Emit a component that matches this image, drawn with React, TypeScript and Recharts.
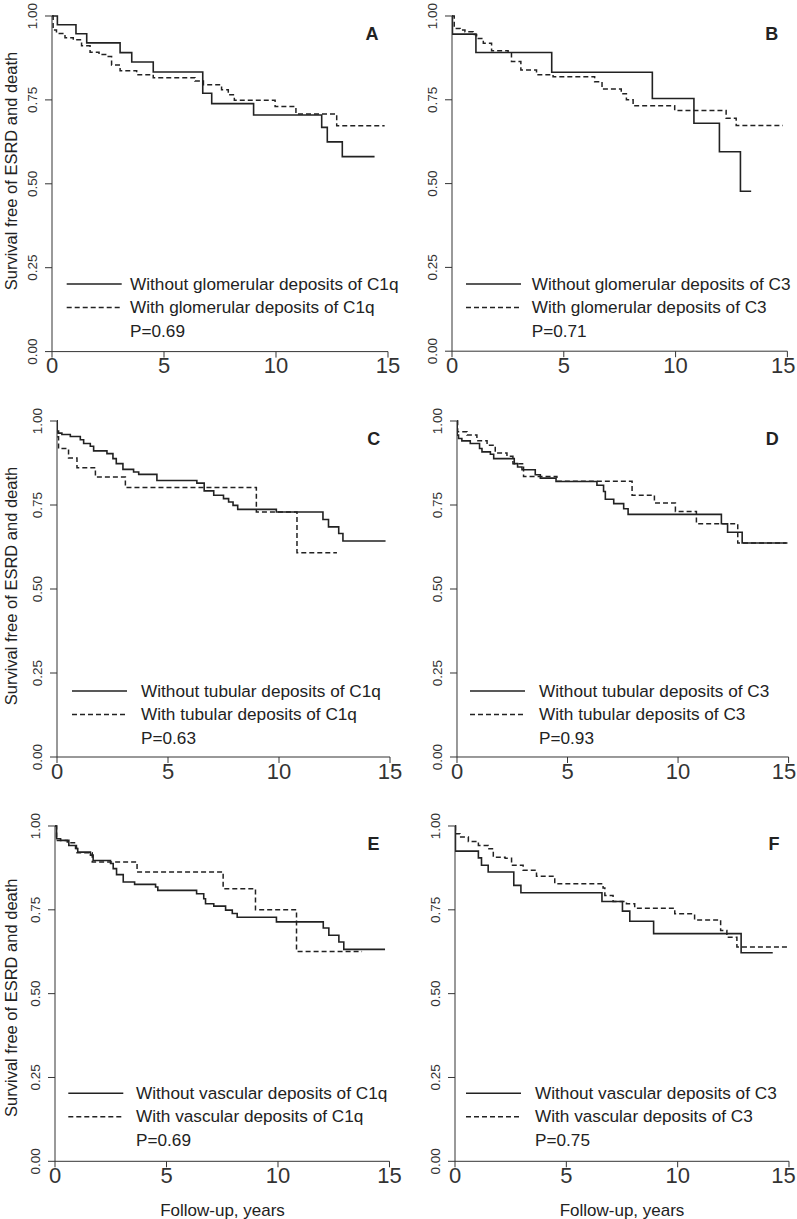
import React from "react";
import { LineChart, Line, XAxis, YAxis } from "recharts";

const FONT = '"Liberation Sans", Arial, Helvetica, sans-serif';
const INK = "#222";

// Kaplan-Meier steps: [years, survival]
const aWithout = [[0, 1], [0.24, 0.974], [1.07, 0.947], [1.55, 0.92], [3.04, 0.891], [3.56, 0.863], [4.52, 0.833], [6.73, 0.77], [7.13, 0.739], [9.0, 0.705], [12.04, 0.668], [12.29, 0.625], [12.96, 0.581], [14.4, 0.581]];
const aWith = [[0, 1], [0.05, 0.958], [0.2, 0.948], [0.58, 0.935], [0.95, 0.929], [1.32, 0.911], [1.7, 0.892], [2.1, 0.885], [2.51, 0.879], [2.66, 0.854], [3.04, 0.837], [3.78, 0.825], [4.52, 0.816], [6.38, 0.806], [6.76, 0.795], [7.57, 0.78], [7.87, 0.765], [8.14, 0.749], [9.96, 0.73], [10.89, 0.708], [12.71, 0.673], [14.85, 0.673]];

const bWithout = [[0, 1], [0.02, 0.946], [1.07, 0.891], [4.46, 0.832], [8.96, 0.754], [10.82, 0.68], [11.96, 0.595], [12.9, 0.477], [13.38, 0.477]];
const bWith = [[0, 1], [0.1, 0.963], [0.36, 0.958], [0.58, 0.953], [0.95, 0.945], [1.1, 0.933], [1.4, 0.919], [1.77, 0.896], [2.51, 0.889], [2.66, 0.864], [3.08, 0.839], [3.78, 0.825], [4.52, 0.819], [6.38, 0.804], [6.71, 0.782], [7.57, 0.768], [7.8, 0.75], [8.1, 0.732], [9.96, 0.718], [12.26, 0.695], [12.71, 0.673], [14.8, 0.673]];

const cWithout = [[0, 1], [0.01, 0.97], [0.07, 0.964], [0.22, 0.96], [0.6, 0.954], [1.05, 0.944], [1.2, 0.933], [1.5, 0.925], [1.65, 0.911], [2.25, 0.903], [2.52, 0.888], [2.67, 0.873], [2.97, 0.856], [3.45, 0.848], [3.68, 0.841], [4.5, 0.823], [6.3, 0.815], [6.63, 0.792], [7.06, 0.779], [7.5, 0.769], [7.73, 0.759], [7.93, 0.749], [8.14, 0.737], [9.88, 0.729], [11.98, 0.707], [12.23, 0.685], [12.69, 0.665], [12.88, 0.643], [14.8, 0.643]];
const cWith = [[0, 1], [0.01, 0.953], [0.07, 0.918], [0.52, 0.89], [0.9, 0.861], [1.73, 0.833], [3.08, 0.802], [8.98, 0.729], [10.81, 0.608], [12.61, 0.608]];

const dWithout = [[0, 1], [0.01, 0.958], [0.07, 0.948], [0.22, 0.941], [0.6, 0.933], [1.02, 0.918], [1.13, 0.908], [1.51, 0.901], [1.66, 0.888], [2.59, 0.873], [2.74, 0.863], [2.94, 0.855], [3.54, 0.84], [3.77, 0.83], [4.48, 0.82], [6.33, 0.809], [6.63, 0.79], [6.71, 0.767], [7.09, 0.754], [7.54, 0.739], [7.74, 0.722], [11.96, 0.694], [12.24, 0.669], [12.9, 0.637], [14.95, 0.637]];
const dWith = [[0, 1], [0.03, 0.968], [0.45, 0.958], [0.9, 0.941], [1.36, 0.928], [1.73, 0.905], [2.26, 0.895], [2.53, 0.873], [3.01, 0.835], [4.52, 0.821], [7.92, 0.779], [8.93, 0.756], [9.88, 0.731], [10.83, 0.694], [12.7, 0.637], [14.9, 0.637]];

const eWithout = [[0, 1], [0.07, 0.962], [0.25, 0.957], [0.62, 0.942], [0.96, 0.933], [1.02, 0.922], [1.59, 0.913], [1.71, 0.897], [2.49, 0.888], [2.61, 0.873], [2.76, 0.855], [3.06, 0.833], [3.57, 0.826], [4.51, 0.818], [4.61, 0.808], [6.35, 0.798], [6.67, 0.783], [6.75, 0.768], [7.12, 0.761], [7.65, 0.749], [7.95, 0.739], [8.17, 0.728], [9.93, 0.714], [12.03, 0.696], [12.28, 0.674], [12.73, 0.654], [12.95, 0.632], [14.8, 0.632]];
const eWith = [[0, 1], [0.07, 0.957], [0.55, 0.95], [0.92, 0.933], [0.99, 0.92], [1.67, 0.893], [3.68, 0.863], [7.54, 0.813], [8.99, 0.75], [10.83, 0.626], [13.77, 0.626]];

const fWithout = [[0, 1], [0.02, 0.925], [1.05, 0.905], [1.19, 0.883], [1.49, 0.863], [2.64, 0.823], [2.96, 0.801], [6.6, 0.775], [7.52, 0.746], [7.85, 0.716], [8.92, 0.679], [12.85, 0.622], [14.27, 0.622]];
const fWith = [[0, 1], [0.02, 0.977], [0.22, 0.967], [0.6, 0.954], [1.05, 0.942], [1.49, 0.932], [1.72, 0.907], [2.25, 0.904], [2.54, 0.883], [3.06, 0.868], [3.66, 0.85], [4.48, 0.828], [6.65, 0.815], [6.73, 0.793], [7.1, 0.775], [7.7, 0.768], [8.07, 0.755], [9.87, 0.738], [10.76, 0.72], [11.93, 0.688], [12.21, 0.668], [12.66, 0.639], [15, 0.639]];

const xTicks = [0, 5, 10, 15];
const yTicks = [0, 0.25, 0.5, 0.75, 1];

const panels = [
  { letter: "A", solid: aWithout, dashed: aWith, labels: ["Without glomerular deposits of C1q", "With glomerular deposits of C1q", "P=0.69"] },
  { letter: "B", solid: bWithout, dashed: bWith, labels: ["Without glomerular deposits of C3", "With glomerular deposits of C3", "P=0.71"] },
  { letter: "C", solid: cWithout, dashed: cWith, labels: ["Without tubular deposits of C1q", "With tubular deposits of C1q", "P=0.63"] },
  { letter: "D", solid: dWithout, dashed: dWith, labels: ["Without tubular deposits of C3", "With tubular deposits of C3", "P=0.93"] },
  { letter: "E", solid: eWithout, dashed: eWith, labels: ["Without vascular deposits of C1q", "With vascular deposits of C1q", "P=0.69"] },
  { letter: "F", solid: fWithout, dashed: fWith, labels: ["Without vascular deposits of C3", "With vascular deposits of C3", "P=0.75"] },
];

// plot boxes (left, right, top, bottom) and legend placement, in page pixels
const boxes = [
  { l: 52, r: 388, t: 15.7, b: 351.3, lineX: 66.7, textX: 130, rowY: 284 },
  { l: 452.3, r: 787.7, t: 15.7, b: 350.9, lineX: 466, textX: 531.7, rowY: 284 },
  { l: 56.7, r: 389.7, t: 420.7, b: 756.7, lineX: 72, textX: 141, rowY: 691 },
  { l: 456.7, r: 788.3, t: 420.7, b: 756.7, lineX: 470, textX: 539, rowY: 691 },
  { l: 54.5, r: 389, t: 825.7, b: 1161, lineX: 68.3, textX: 136, rowY: 1093.3 },
  { l: 455, r: 789, t: 825.7, b: 1161, lineX: 466, textX: 535, rowY: 1093.3 },
];

const YW = 50;
const XH = 40;
const MT = 16;
const MR = 10;
const PAGE_W = 797;

const toPts = (arr: number[][]) => arr.map(([t, s]) => ({ t, s }));

const YTick = (props: any) => {
  const { x, y, payload } = props;
  const bx = x - 7.7;
  return (
    <text x={bx} y={y} transform={`rotate(-90 ${bx} ${y})`} textAnchor="middle" fontSize={13.5} fill="#333" fontFamily={FONT}>
      {Number(payload.value).toFixed(2)}
    </text>
  );
};

// keeps the last label inside the page, like the reference where "15" touches the edge
const XTick = (props: any) => {
  const { x, y, payload, maxX } = props;
  const label = String(payload.value);
  const half = label.length * 6.2;
  const cx = Math.min(x, maxX - half);
  return (
    <text x={cx} y={y} dy="0.71em" textAnchor="middle" fontSize={22} fill="#333" fontFamily={FONT}>
      {label}
    </text>
  );
};

function Panel({ p, box }: { p: any; box: any }) {
  const w = box.r - box.l;
  const h = box.b - box.t;
  const left = box.l - YW;
  return (
    <div style={{ position: "absolute", left, top: box.t - MT }}>
      <LineChart width={w + YW + MR} height={h + MT + XH} margin={{ top: MT, right: MR, left: 0, bottom: 0 }}>
        <XAxis
          type="number"
          dataKey="t"
          domain={[0, 15]}
          ticks={xTicks}
          allowDataOverflow
          height={XH}
          tickSize={6}
          tickMargin={0}
          stroke="#333"
          interval={0}
          tick={(tp: any) => <XTick {...tp} maxX={PAGE_W - 1 - left} />}
        />
        <YAxis
          type="number"
          domain={[0, 1]}
          ticks={yTicks}
          width={YW}
          tickSize={7}
          tickMargin={0}
          stroke="#333"
          interval={0}
          tick={<YTick />}
        />
        <Line data={toPts(p.dashed)} dataKey="s" type="stepAfter" stroke={INK} strokeWidth={1.5} strokeDasharray="5 3" dot={false} isAnimationActive={false} />
        <Line data={toPts(p.solid)} dataKey="s" type="stepAfter" stroke={INK} strokeWidth={1.6} dot={false} isAnimationActive={false} />
      </LineChart>
    </div>
  );
}

export default function App() {
  return (
    <div style={{ position: "absolute", left: 0, top: 0, width: PAGE_W, height: 1219, background: "#fff", fontFamily: FONT, overflow: "hidden" }}>
      <style>{".recharts-surface{overflow:visible}"}</style>
      {panels.map((p, i) => (
        <Panel key={p.letter} p={p} box={boxes[i]} />
      ))}
      <svg width={PAGE_W} height={1219} style={{ position: "absolute", left: 0, top: 0, pointerEvents: "none" }}>
        {panels.map((p, i) => {
          const b = boxes[i];
          return (
            <g key={p.letter} fontFamily={FONT} fill={INK}>
              <text x={b.r - 9.5} y={b.t + 24.5} textAnchor="end" fontSize={18} fontWeight="bold">{p.letter}</text>
              <line x1={b.lineX} x2={b.lineX + 55} y1={b.rowY} y2={b.rowY} stroke={INK} strokeWidth={1.5} />
              <line x1={b.lineX} x2={b.lineX + 55} y1={b.rowY + 23.5} y2={b.rowY + 23.5} stroke={INK} strokeWidth={1.5} strokeDasharray="5 3" />
              <text x={b.textX} y={b.rowY + 5.5} fontSize={17.2}>{p.labels[0]}</text>
              <text x={b.textX} y={b.rowY + 29} fontSize={17.2}>{p.labels[1]}</text>
              <text x={b.textX} y={b.rowY + 52.5} fontSize={17.2}>{p.labels[2]}</text>
            </g>
          );
        })}
        <g fontFamily={FONT} fill={INK} fontSize={16.5}>
          <text x={17} y={171} transform="rotate(-90 17 171)" textAnchor="middle">Survival free of ESRD and death</text>
          <text x={17} y={586} transform="rotate(-90 17 586)" textAnchor="middle">Survival free of ESRD and death</text>
          <text x={17} y={997.7} transform="rotate(-90 17 997.7)" textAnchor="middle">Survival free of ESRD and death</text>
        </g>
        <g fontFamily={FONT} fill={INK} fontSize={17}>
          <text x={222.5} y={1215.5} textAnchor="middle">Follow-up, years</text>
          <text x={622} y={1215.5} textAnchor="middle">Follow-up, years</text>
        </g>
      </svg>
    </div>
  );
}
